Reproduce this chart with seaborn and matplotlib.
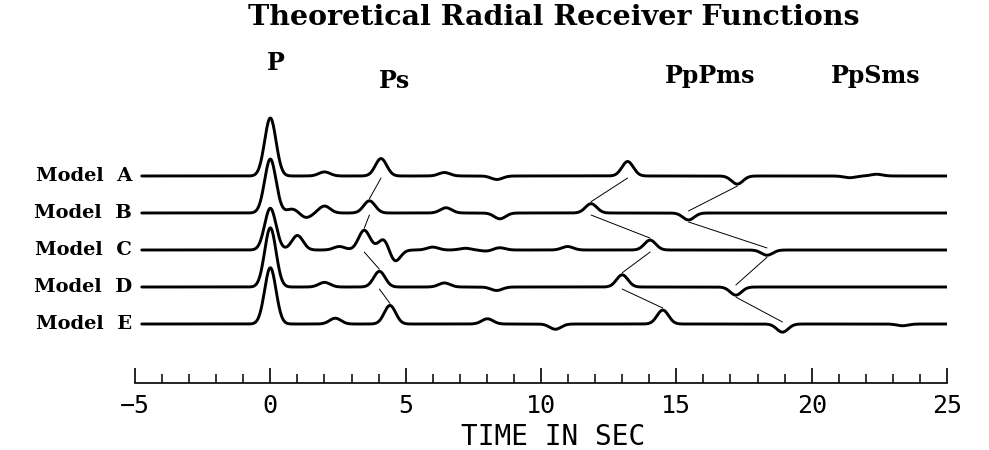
import numpy as np
import pandas as pd
import matplotlib
matplotlib.use("Agg")
import matplotlib.pyplot as plt
import seaborn as sns
from matplotlib.ticker import MultipleLocator

# ---- arrivals read for each synthetic receiver function ----
models = ["Model  A", "Model  B", "Model  C", "Model  D", "Model  E"]

p_amp = [1.00, 0.93, 0.72, 1.02, 0.97]          # direct P at t = 0
ps_time = [4.09, 3.66, 3.47, 4.03, 4.42]
ps_amp = [0.30, 0.21, 0.34, 0.27, 0.32]
pppms_time = [13.20, 11.85, 14.03, 13.00, 14.50]
pppms_amp = [0.25, 0.16, 0.17, 0.21, 0.24]
ppsms_time = [17.25, 15.45, 18.35, 17.20, 18.92]
ppsms_amp = [-0.14, -0.12, -0.09, -0.14, -0.14]

# secondary arrivals (time s, amplitude) per model
other_a = [(2.00, 0.07), (6.43, 0.06), (8.37, -0.06), (21.4, -0.03), (22.4, 0.03)]
other_b = [(0.82, 0.07), (1.32, -0.08), (2.00, 0.12), (6.49, 0.09), (8.48, -0.10)]
other_c = [(1.00, 0.25), (2.55, 0.06), (4.21, 0.21), (4.58, -0.22), (6.00, 0.05),
           (7.20, 0.03), (8.00, -0.02), (8.46, 0.04), (10.98, 0.06)]
other_d = [(2.00, 0.08), (6.43, 0.07), (8.36, -0.06)]
other_e = [(2.40, 0.10), (8.02, 0.09), (10.53, -0.09), (23.36, -0.03)]
others = [other_a, other_b, other_c, other_d, other_e]

phase_names = ["P", "Ps", "PpPms", "PpSms"]
phase_label_x = [0.22, 4.6, 16.25, 22.35]
phase_label_y = [1.83, 1.52, 1.60, 1.60]

tick_values = [-5, 0, 5, 10, 15, 20, 25]

# ---- build the traces ----
pulse_sigma = 0.21
spacing = 0.638
t = np.arange(-4.75, 25.0001, 0.02)

rows = []
for i, name in enumerate(models):
    arrivals = [(0.0, p_amp[i]), (ps_time[i], ps_amp[i]),
                (pppms_time[i], pppms_amp[i]), (ppsms_time[i], ppsms_amp[i])] + others[i]
    trace = np.zeros_like(t)
    for tt, aa in arrivals:
        trace += aa * np.exp(-0.5 * ((t - tt) / pulse_sigma) ** 2)
    rows.append(pd.DataFrame({"time": t, "amp": trace - i * spacing, "model": name}))
df = pd.concat(rows, ignore_index=True)

sns.set_theme(style="white")
plt.rcParams["font.family"] = ["DejaVu Serif"]
plt.rcParams["text.color"] = "black"
plt.rcParams["xtick.color"] = "black"

fig = plt.figure(figsize=(9.89, 4.5), dpi=100)
ax = fig.add_axes([135 / 989, 67 / 450, 812 / 989, 283 / 450])

sns.lineplot(data=df, x="time", y="amp", hue="model", palette=["black"] * 5,
             legend=False, linewidth=2.1, estimator=None, sort=False, ax=ax)

# moveout lines joining each phase on neighbouring traces
gap = 0.035
for times, amps in [(ps_time, ps_amp), (pppms_time, pppms_amp), (ppsms_time, ppsms_amp)]:
    for i in range(len(models) - 1):
        y0 = -i * spacing + min(0.0, amps[i]) - gap
        y1 = -(i + 1) * spacing + max(0.0, amps[i + 1]) + gap
        ax.plot([times[i], times[i + 1]], [y0, y1], color="black", lw=0.7)

for i, name in enumerate(models):
    ax.text(-5.1, -i * spacing, name, ha="right", va="center", color="black",
            fontsize=14, fontweight="bold", family="DejaVu Serif", clip_on=False)

for name, x, y in zip(phase_names, phase_label_x, phase_label_y):
    ax.text(x, y, name, ha="center", va="baseline", fontsize=17, color="black",
            fontweight="bold", family="DejaVu Serif", clip_on=False)

fig.text(554 / 989, 1 - 17.5 / 450, "Theoretical Radial Receiver Functions",
         ha="center", va="center", fontsize=20.5, fontweight="bold",
         family="DejaVu Serif", color="black")

ax.set_xlim(-5, 25)
ax.set_ylim(-3.569, 1.31)
for s in ["left", "right", "top"]:
    ax.spines[s].set_visible(False)
ax.spines["bottom"].set_color("black")
ax.spines["bottom"].set_linewidth(1.2)
ax.set_yticks([])
ax.set_xticks(tick_values)
ax.set_xticklabels([str(v).replace("-", "\u2212") for v in tick_values],
                   family="DejaVu Sans Mono")
ax.xaxis.set_minor_locator(MultipleLocator(1))
ax.tick_params(axis="x", which="major", direction="in", length=11, width=1.2,
               pad=8, labelsize=18, colors="black", bottom=True)
ax.tick_params(axis="x", which="minor", direction="in", length=6.5, width=1.1,
               colors="black", bottom=True)
ax.set_xlabel("")
ax.set_ylabel("")

fig.text(553 / 989, 1 - 437 / 450, "TIME IN SEC", ha="center", va="center",
         fontsize=20, family="DejaVu Sans Mono", color="black")

fig.savefig("out.png", dpi=100, facecolor="white")
